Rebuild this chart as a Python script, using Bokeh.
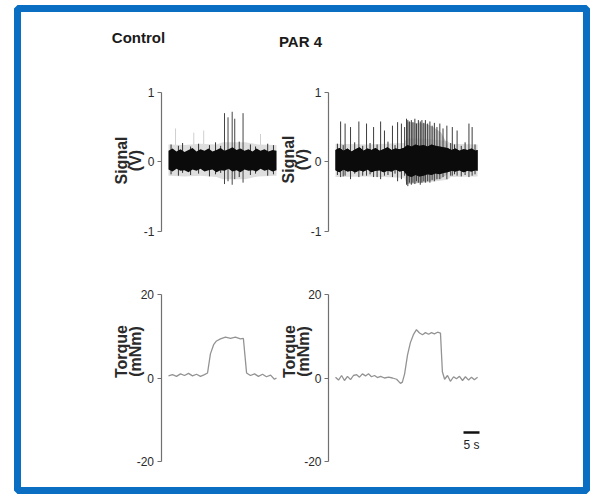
import math
from bokeh.plotting import figure
from bokeh.models import Range1d, LinearAxis, FixedTicker
from bokeh.core.properties import value
from bokeh.embed import file_html
from bokeh.resources import INLINE

# ---------------- data ----------------
panel_titles = ["Control", "PAR 4"]
signal_ticks = [-1, 0, 1]
torque_ticks = [-20, 0, 20]
signal_label = ["Signal", "(V)"]
torque_label = ["Torque", "(mNm)"]
scalebar_seconds = 5
scalebar_start = 40
scalebar_text = "5 s"

# Control: EMG signal noise band (V)
ctrl_band_t = [0, 1.25, 2.5, 3.75, 5, 6.25, 7.5, 8.75, 10, 11.25, 12.5, 13.75, 15, 16.25,
               17.5, 18.75, 20, 21.25, 22.5, 23.75, 25, 26.25, 27.5, 28.75, 30, 31.25, 32.5, 33.75]
ctrl_band_hi = [0.16, 0.19, 0.15, 0.18, 0.14, 0.17, 0.20, 0.15, 0.18, 0.16, 0.19, 0.15, 0.17, 0.20,
                0.16, 0.18, 0.21, 0.17, 0.19, 0.16, 0.18, 0.15, 0.19, 0.16, 0.18, 0.15, 0.17, 0.16]
ctrl_band_lo = [-0.11, -0.14, -0.10, -0.13, -0.12, -0.15, -0.11, -0.13, -0.10, -0.14, -0.12, -0.11, -0.15, -0.12,
                -0.13, -0.10, -0.14, -0.12, -0.15, -0.11, -0.13, -0.12, -0.14, -0.10, -0.13, -0.11, -0.14, -0.12]
ctrl_halo_t = [0, 5, 10, 15, 17, 24, 28, 33.75]
ctrl_halo_hi = [0.25, 0.24, 0.26, 0.25, 0.28, 0.28, 0.25, 0.24]
ctrl_halo_lo = [-0.20, -0.21, -0.20, -0.22, -0.25, -0.25, -0.21, -0.20]
# Control: action potentials (t s, top V, bottom V)
ctrl_spike_t = [17.5, 18.6, 19.9, 20.7, 23.3]
ctrl_spike_top = [0.70, 0.64, 0.72, 0.62, 0.70]
ctrl_spike_bot = [-0.32, -0.28, -0.33, -0.25, -0.30]
ctrl_faint_t = [2.2, 7.9, 11.0, 28.75]
ctrl_faint_top = [0.48, 0.42, 0.45, 0.40]
ctrl_small_t = [0.8, 3.1, 4.4, 6.9, 9.4, 12.8, 14.7, 16.3, 22.1, 25.6, 27.2, 31.0, 32.8]
ctrl_small_top = [0.25, 0.23, 0.27, 0.22, 0.26, 0.24, 0.28, 0.23, 0.29, 0.25, 0.22, 0.26, 0.24]
ctrl_small_bot = [-0.18, -0.20, -0.16, -0.19, -0.17, -0.21, -0.18, -0.16, -0.22, -0.19, -0.17, -0.20, -0.18]

# PAR 4: EMG signal noise band (V)
par_band_t = [0, 1.25, 2.5, 3.75, 5, 6.25, 7.5, 8.75, 10, 11.25, 12.5, 13.75, 15, 16.25, 17.5, 18.75,
              20, 21.25, 22.5, 23.75, 25, 26.25, 27.5, 28.75, 30, 31.25, 32.5, 33.75, 35, 36.25,
              37.5, 38.75, 40, 41.25, 42.5, 43.75, 44.4]
par_band_hi = [0.17, 0.20, 0.16, 0.19, 0.15, 0.18, 0.21, 0.16, 0.19, 0.17, 0.20, 0.16, 0.18, 0.21, 0.17, 0.19,
               0.18, 0.20, 0.24, 0.22, 0.25, 0.23, 0.24, 0.22, 0.25, 0.23, 0.22, 0.21, 0.20, 0.17,
               0.19, 0.16, 0.18, 0.17, 0.19, 0.16, 0.17]
par_band_lo = [-0.12, -0.15, -0.11, -0.14, -0.13, -0.15, -0.12, -0.14, -0.11, -0.15, -0.13, -0.12, -0.15, -0.13, -0.14, -0.11,
               -0.14, -0.13, -0.20, -0.22, -0.19, -0.21, -0.20, -0.18, -0.19, -0.17, -0.18, -0.16, -0.15, -0.13,
               -0.14, -0.12, -0.15, -0.13, -0.14, -0.12, -0.13]
par_halo_t = [0, 10, 21.5, 22.2, 28, 35, 36, 44.4]
par_halo_hi = [0.26, 0.25, 0.27, 0.34, 0.33, 0.30, 0.26, 0.25]
par_halo_lo = [-0.22, -0.21, -0.23, -0.32, -0.30, -0.26, -0.22, -0.21]
# PAR 4 burst haze (dense firing, 22-35 s)
par_burst_t = [22.0, 22.4, 25.0, 28.0, 30.5, 33.0, 35.0]
par_burst_hi = [0.25, 0.58, 0.56, 0.55, 0.50, 0.42, 0.25]
par_burst_lo = [-0.20, -0.32, -0.31, -0.29, -0.27, -0.24, -0.18]
par_spike_t = [1.6, 3.0, 4.7, 7.3, 9.7, 11.9, 14.1, 15.3, 17.8, 19.4, 20.6, 21.6,
               22.2, 22.6, 23.1, 23.7, 24.2, 24.8, 25.3, 25.9, 26.5, 27.0, 27.6, 28.1, 28.8, 29.5,
               30.2, 30.9, 31.7, 32.6, 33.6, 34.8,
               36.5, 38.0, 41.7, 42.7]
par_spike_top = [0.58, 0.55, 0.50, 0.58, 0.55, 0.50, 0.58, 0.45, 0.52, 0.57, 0.55, 0.50,
                 0.62, 0.60, 0.58, 0.60, 0.57, 0.62, 0.55, 0.60, 0.58, 0.60, 0.56, 0.60, 0.55, 0.58,
                 0.52, 0.56, 0.50, 0.55, 0.48, 0.52,
                 0.50, 0.45, 0.55, 0.50]
par_spike_bot = [-0.22, -0.20, -0.25, -0.22, -0.20, -0.22, -0.25, -0.20, -0.22, -0.28, -0.25, -0.20,
                 -0.33, -0.35, -0.30, -0.33, -0.30, -0.32, -0.28, -0.30, -0.33, -0.30, -0.28, -0.30, -0.28, -0.30,
                 -0.26, -0.28, -0.25, -0.25, -0.22, -0.25,
                 -0.20, -0.20, -0.22, -0.20]
par_small_t = [0.6, 2.4, 6.0, 8.5, 10.8, 13.0, 16.4, 18.6, 36.0, 37.2, 39.3, 40.5, 43.6]
par_small_top = [0.26, 0.24, 0.28, 0.23, 0.27, 0.25, 0.29, 0.24, 0.27, 0.25, 0.23, 0.28, 0.25]
par_small_bot = [-0.19, -0.21, -0.17, -0.20, -0.18, -0.22, -0.19, -0.17, -0.20, -0.18, -0.21, -0.19, -0.18]

# Torque traces (t s, mNm)
ctrl_torque_t = [0, 1.25, 2.5, 3.75, 5.0, 6.25, 7.5, 8.75, 10.0, 11.25, 12.2, 13.1, 14.1, 15.0,
                 16.25, 17.8, 19.4, 20.9, 22.5, 23.4, 24.4, 25.6, 26.9, 28.1, 29.4, 30.6, 31.9, 33.1, 33.75]
ctrl_torque_v = [0.5, 0.8, 0.4, 1.0, 0.6, 1.1, 0.5, 0.9, 0.4, 0.8, 1.2, 5.8, 8.0, 8.9,
                 9.4, 9.8, 9.5, 9.8, 9.4, 9.5, 1.2, 0.6, 1.0, 0.4, 0.9, 0.3, 0.7, -0.3, 0.0]
par_torque_t = [0, 0.94, 1.9, 2.8, 3.75, 4.7, 5.6, 6.6, 7.5, 8.4, 9.4, 10.3, 11.25, 12.2, 13.1, 14.1,
                15.3, 16.6, 17.8, 19.1, 20.3, 20.9, 21.6, 22.5, 23.4, 24.4, 25.3, 26.25, 27.2, 28.1,
                29.1, 30.0, 30.9, 31.9, 32.8, 33.4, 34.1, 35.0, 35.9, 36.9, 37.8, 38.75, 39.7, 40.6,
                41.6, 42.5, 43.4, 44.4]
par_torque_v = [0.2, -0.5, 0.6, -0.6, 0.4, -0.4, 0.6, 0.8, 0.2, 1.0, 0.5, 1.0, 0.3, 0.6, 0.1, 0.4,
                0.0, 0.2, 0.0, -0.3, -1.3, -1.0, 1.0, 5.5, 8.5, 10.5, 11.6, 10.8, 10.4, 10.9,
                10.5, 10.9, 10.6, 11.0, 10.8, 1.5, -0.3, 0.6, -0.8, 0.3, -0.2, 0.4, -0.6, 0.3,
                -0.5, 0.2, -0.4, 0.2]

# ---------------- layout (page pixels, page origin at 0,0) ----------------
W, H = 590, 494
ML, MR, MT, MB = 17, 4, 8, 4
FX0, FX1 = ML, W - MR           # frame left/right on page
FY0, FY1 = MT, H - MB           # frame top/bottom on page
PX_PER_S = 3.2
XL0, XR0 = 168.0, 335.0         # page x of t=0
YS0, YS_PX = 161.3, 69.5        # page y of 0 V, px per V
YT0, YT_PX = 377.5, 4.1625      # page y of 0 mNm, px per mNm

def xrng(x0):
    return Range1d((FX0 - x0) / PX_PER_S, (FX1 - x0) / PX_PER_S)

def yrng(y0, k):
    return Range1d((y0 - FY1) / k, (y0 - FY0) / k)

def xl(px): return (px - XL0) / PX_PER_S
def xr(px): return (px - XR0) / PX_PER_S
def ys(py): return (YS0 - py) / YS_PX
def yt(py): return (YT0 - py) / YT_PX

p = figure(width=W, height=H, x_range=xrng(XL0), y_range=yrng(YS0, YS_PX),
           x_axis_location=None, y_axis_location=None, toolbar_location=None,
           output_backend="svg", min_border_left=ML, min_border_right=MR,
           min_border_top=MT, min_border_bottom=MB)
p.extra_x_ranges = {"xr": xrng(XR0)}
p.extra_y_ranges = {"yt": yrng(YT0, YT_PX)}
p.grid.visible = False
p.background_fill_color = "white"
p.border_fill_color = "white"
p.outline_line_color = "#0a6fc2"
p.outline_line_width = 7

SANS = "Liberation Sans"

# ---- signal panels ----
def draw_signal(xname, bt, bhi, blo, ht, hhi, hlo, st, stop, sbot, mt, mtop, mbot, scol):
    kw = {} if xname is None else {"x_range_name": xname}
    p.varea(x=ht, y1=hlo, y2=hhi, fill_color="#dedede", **kw)
    p.segment(x0=st, y0=sbot, x1=st, y1=stop, line_color="#333333", line_width=1, **kw)
    p.segment(x0=mt, y0=mbot, x1=mt, y1=mtop, line_color=scol, line_width=1, **kw)
    p.varea(x=bt, y1=blo, y2=bhi, fill_color="#0b0b0b", **kw)

p.segment(x0=ctrl_faint_t, y0=[0.0] * len(ctrl_faint_t), x1=ctrl_faint_t, y1=ctrl_faint_top,
          line_color="#cfcfcf", line_width=1)
draw_signal(None, ctrl_band_t, ctrl_band_hi, ctrl_band_lo, ctrl_halo_t, ctrl_halo_hi, ctrl_halo_lo,
            ctrl_small_t, ctrl_small_top, ctrl_small_bot, ctrl_spike_t, ctrl_spike_top, ctrl_spike_bot, "#454545")
draw_signal("xr", par_band_t, par_band_hi, par_band_lo, par_halo_t, par_halo_hi, par_halo_lo,
            par_small_t, par_small_top, par_small_bot, [], [], [], "#3c3c3c")
p.varea(x=par_burst_t, y1=par_burst_lo, y2=par_burst_hi, x_range_name="xr",
        fill_color="#9a9a9a", fill_alpha=0.55)
p.segment(x0=par_spike_t, y0=par_spike_bot, x1=par_spike_t, y1=par_spike_top,
          x_range_name="xr", line_color="#3c3c3c", line_width=1)
p.varea(x=par_band_t, y1=par_band_lo, y2=par_band_hi, x_range_name="xr", fill_color="#0b0b0b")

# ---- torque panels ----
p.line(ctrl_torque_t, ctrl_torque_v, y_range_name="yt", line_color="#939393", line_width=1.3)
p.line(par_torque_t, par_torque_v, x_range_name="xr", y_range_name="yt",
       line_color="#939393", line_width=1.3)

# scale bar
p.segment(x0=[scalebar_start], y0=[yt(432)], x1=[scalebar_start + scalebar_seconds], y1=[yt(432)],
          x_range_name="xr", y_range_name="yt", line_color="#111111", line_width=2.5)
p.text(x=[scalebar_start + scalebar_seconds / 2], y=[yt(444)], text=[scalebar_text],
       x_range_name="xr", y_range_name="yt", text_align="center", text_baseline="middle",
       text_font=value(SANS), text_font_size="12px", text_color="#222222")

# ---- axes ----
def add_axis(xname, yname, loc, ticks):
    kw = {}
    if xname: kw["x_range_name"] = xname
    if yname: kw["y_range_name"] = yname
    ax = LinearAxis(fixed_location=loc, bounds=(min(ticks), max(ticks)),
                    ticker=FixedTicker(ticks=ticks, minor_ticks=[]), **kw)
    ax.major_label_overrides = {t: str(t) for t in ticks}
    ax.axis_line_color = "#707070"
    ax.axis_line_width = 1.2
    ax.major_tick_line_color = "#707070"
    ax.major_tick_line_width = 1.2
    ax.major_tick_out = 4
    ax.major_tick_in = 0
    ax.minor_tick_out = 0
    ax.minor_tick_in = 0
    ax.major_label_standoff = 3
    ax.major_label_text_font = SANS
    ax.major_label_text_font_size = "12px"
    ax.major_label_text_color = "#2a2a2a"
    p.add_layout(ax, "left")

add_axis(None, None, xl(161), signal_ticks)
add_axis("xr", None, xr(328), signal_ticks)
add_axis(None, "yt", xl(160.5), torque_ticks)
add_axis("xr", "yt", xr(328), torque_ticks)

# ---- titles ----
p.text(x=[xl(138)], y=[ys(37)], text=[panel_titles[0]], text_align="center", text_baseline="middle",
       text_font=value(SANS), text_font_style="bold", text_font_size="15px", text_color="#1a1a1a")
p.text(x=[xr(300)], y=[ys(41)], text=[panel_titles[1]], x_range_name="xr",
       text_align="center", text_baseline="middle",
       text_font=value(SANS), text_font_style="bold", text_font_size="15px", text_color="#1a1a1a")

# ---- rotated axis labels ----
def vlabel(xs, yval, lines, xname, yname):
    kw = {}
    if xname: kw["x_range_name"] = xname
    if yname: kw["y_range_name"] = yname
    p.text(x=xs, y=[yval] * len(lines), text=lines, angle=math.pi / 2,
           text_align="center", text_baseline="middle", text_font=value(SANS),
           text_font_style="bold", text_font_size="16px", text_color="#2a2a2a", **kw)

vlabel([xl(121), xl(135)], ys(160), signal_label, None, None)
vlabel([xr(288), xr(302)], ys(159), signal_label, "xr", None)
vlabel([xl(121), xl(135)], yt(351), torque_label, None, "yt")
vlabel([xr(289), xr(303)], yt(351), torque_label, "xr", "yt")

open("out.html", "w").write(file_html(p, INLINE))
